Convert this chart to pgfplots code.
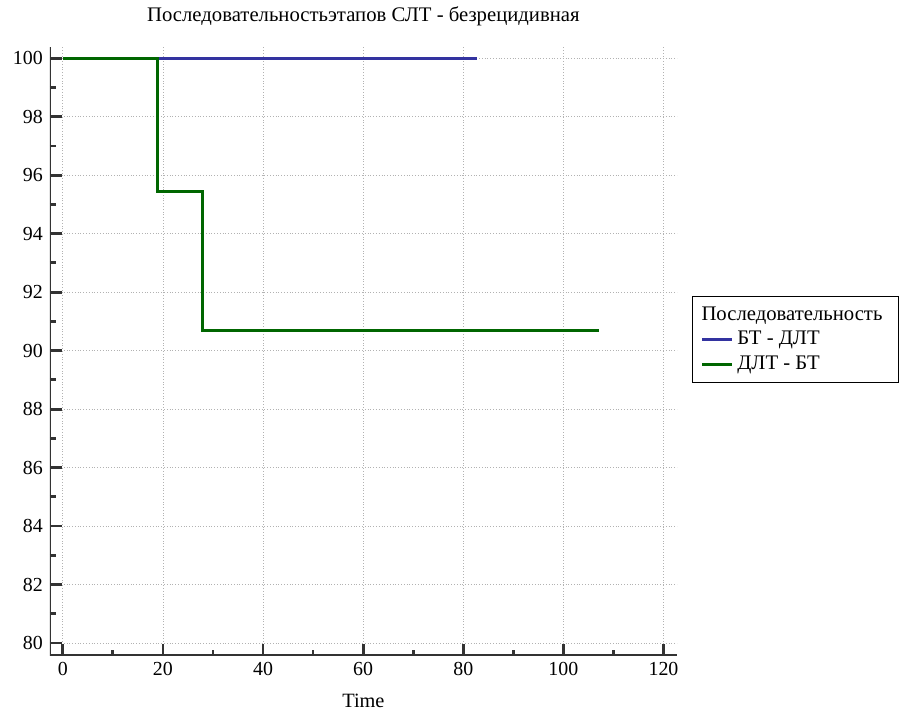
\documentclass[border=0pt]{standalone}
\usepackage{fontspec}
\setmainfont{Liberation Serif}
\usepackage{pgfplots}
\pgfplotsset{compat=1.18}
\definecolor{cblue}{HTML}{3333A0}
\definecolor{cgreen}{HTML}{006600}
\definecolor{spine}{HTML}{333333}
\begin{document}
\begin{tikzpicture}
\begin{axis}[
  scale only axis,
  width=315pt, height=305.5pt,
  xmin=-2.6, xmax=122.7,
  ymin=79.57, ymax=100.37,
  axis x line*=bottom, axis y line*=left,
  axis line style={draw=none},
  xtick={0,20,...,120}, minor xtick={10,30,...,110},
  ytick={80,82,...,100}, minor ytick={81,83,...,99},
  tick align=inside,
  major tick length=6pt, minor tick length=3pt,
  every tick/.style={line width=1.4pt, draw=spine},
  grid=major,
  major grid style={densely dotted, line width=0.4pt, gray!60},
  tick label style={font=\fontsize{10}{12}\selectfont\rmfamily},
  /pgf/number format/assume math mode=true,
  title={Последовательностьэтапов СЛТ - безрецидивная},
  title style={at={(0.5,1)}, anchor=base, yshift=7pt, font=\fontsize{10.4}{12}\selectfont\rmfamily},
  xlabel={Time},
  xlabel style={at={(0.5,0)}, anchor=base, yshift=-26pt, font=\fontsize{10.2}{12}\selectfont\rmfamily},
  legend style={at={(1,0)}, anchor=north west, xshift=7.5pt, yshift=180.5pt,
    draw=black, line width=0.6pt, font=\fontsize{10.4}{12}\selectfont\rmfamily,
    inner xsep=4pt, inner ysep=3pt, row sep=0pt, legend cell align=left},
  legend image code/.code={\draw[#1, line width=1.5pt] (0pt,0pt) -- (15pt,0pt);},
]
\addlegendimage{empty legend}
\addlegendentry{\hspace*{-18pt}Последовательность\hspace*{2pt}}
\addplot[cblue, line width=1.6pt, const plot] coordinates {(0,100) (82.7,100)};
\addlegendentry{БТ - ДЛТ}
\addplot[cgreen, line width=1.6pt, const plot] coordinates {(0,100) (18.9,95.45) (27.9,90.68) (107.2,90.68)};
\addlegendentry{ДЛТ - БТ}
\draw[spine, line width=1.6pt] (rel axis cs:0,1) -- (rel axis cs:0,0) -- (rel axis cs:1,0);
\end{axis}
\path[use as bounding box] (-25pt,-27pt) rectangle (424.5pt,326.5pt);
\end{tikzpicture}
\end{document}
